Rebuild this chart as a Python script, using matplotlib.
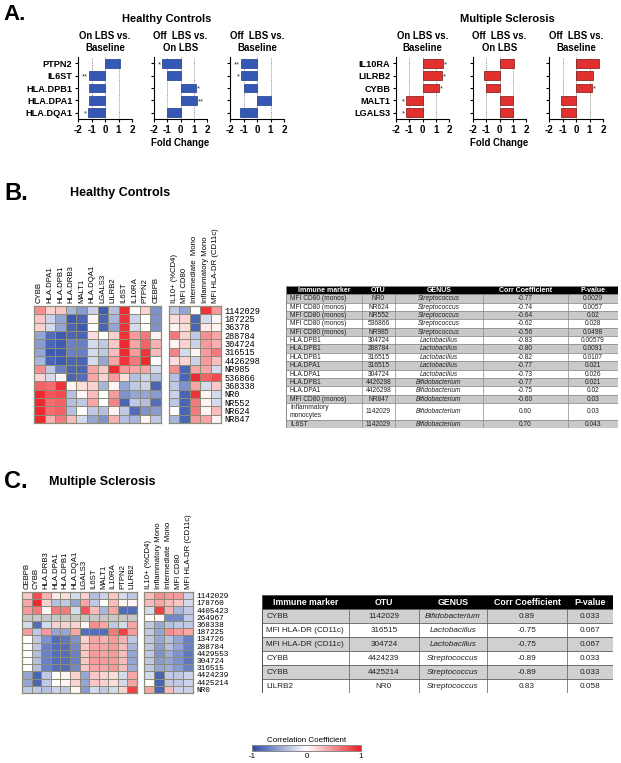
import numpy as np
import matplotlib
matplotlib.use('Agg')
import matplotlib.pyplot as plt
from matplotlib.colors import LinearSegmentedColormap
from matplotlib.patches import Rectangle

SANS = ['Liberation Sans', 'DejaVu Sans']
MONO = ['Liberation Mono', 'DejaVu Sans Mono']
plt.rcParams['font.family'] = SANS
plt.rcParams['axes.unicode_minus'] = False

# ---------------- Panel A: fold change ----------------
comparisons = ['On LBS vs.\nBaseline', 'Off  LBS vs.\nOn LBS', 'Off  LBS vs.\nBaseline']

hc_genes = ['PTPN2', 'IL6ST', 'HLA.DPB1', 'HLA.DPA1', 'HLA.DQA1']
hc_on_vs_base = [1.1, -1.2, -1.2, -1.2, -1.28]
hc_off_vs_on = [-1.37, -1.0, 1.17, 1.27, -1.0]
hc_off_vs_base = [-1.2, -1.2, -1.0, 1.07, -1.25]
hc_on_vs_base_sig = ['', '**', '', '', '*']
hc_off_vs_on_sig = ['*', '', '*', '**', '']
hc_off_vs_base_sig = ['**', '*', '', '', '']

ms_genes = ['IL10RA', 'LILRB2', 'CYBB', 'MALT1', 'LGALS3']
ms_on_vs_base = [1.55, 1.45, 1.22, -1.25, -1.25]
ms_off_vs_on = [1.1, -1.15, -1.0, 1.05, 1.05]
ms_off_vs_base = [1.7, 1.25, 1.2, -1.12, -1.12]
ms_on_vs_base_sig = ['*', '*', '*', '*', '*']
ms_off_vs_on_sig = ['', '', '', '', '']
ms_off_vs_base_sig = ['', '', '*', '', '']

# ---------------- Panel B: healthy controls heatmap ----------------
hc_gene_cols = ['CYBB', 'HLA.DPA1', 'HLA.DPB1', 'HLA.DRB3', 'MALT1', 'HLA.DQA1',
                'LGALS3', 'LILRB2', 'IL6ST', 'IL10RA', 'PTPN2', 'CEBPB']
hc_immune_cols = ['IL10+ (%CD4)', 'MFI CD80', 'Intermediate  Mono',
                  'Inflammatory Mono', 'MFI HLA-DR (CD11c)']
hc_otus = ['1142029', '187225', '36378', '288784', '304724', '316515', '4426298',
           'NR985', '536866', '368338', 'NR0', 'NR552', 'NR624', 'NR847']
hc_gene_corr = [
    [0.5, 0.2, 0.25, -0.4, -0.55, -0.25, -0.9, -0.35, 0.95, 0.0, 0.2, -0.6],
    [0.25, -0.25, -0.5, -0.9, -0.85, 0.05, -0.85, -0.4, 0.9, -0.25, 0.0, -0.6],
    [0.2, -0.2, -0.5, -0.85, -0.9, 0.0, -0.85, -0.5, 0.9, -0.2, 0.0, -0.6],
    [-0.5, -0.8, -0.9, -0.85, -0.85, 0.15, 0.0, 0.2, 0.9, 0.45, 0.6, 0.05],
    [-0.55, -0.85, -0.9, -0.7, -0.7, -0.2, -0.3, 0.25, 0.95, 0.4, 0.7, 0.35],
    [-0.5, -0.9, -0.9, -0.7, -0.7, -0.2, -0.3, 0.3, 0.95, 0.45, 0.9, 0.3],
    [-0.4, -0.85, -0.9, -0.85, -0.85, -0.2, -0.5, 0.4, 0.9, 0.6, 0.95, 0.0],
    [0.5, -0.3, -0.7, -0.85, -0.85, 0.4, 0.25, 0.95, 0.45, 0.4, 0.4, -0.2],
    [0.2, -0.2, 0.05, -0.85, -0.8, 0.4, 0.2, 0.45, 0.15, -0.35, -0.25, -0.35],
    [0.7, 0.65, 0.9, 0.05, 0.15, 0.2, -0.4, 0.05, -0.5, -0.3, -0.25, -0.85],
    [0.95, 0.75, 0.8, -0.35, 0.05, 0.3, 0.0, 0.45, -0.6, -0.5, -0.5, -0.55],
    [0.95, 0.65, 0.7, -0.35, -0.3, 0.4, 0.0, 0.55, -0.85, -0.3, -0.35, -0.8],
    [0.95, 0.65, 0.7, -0.35, 0.0, -0.3, -0.35, 0.05, -0.3, -0.8, -0.6, -0.55],
    [0.95, 0.35, 0.6, 0.3, -0.2, -0.5, -0.6, 0.35, -0.35, -0.4, 0.05, -0.3],
]
hc_immune_corr = [
    [-0.3, -0.5, 0.0, 0.9, 0.45],
    [0.15, 0.2, -0.85, -0.2, 0.05],
    [0.05, 0.15, -0.85, 0.1, 0.05],
    [0.6, 0.2, -0.3, 0.5, 0.4],
    [0.05, 0.2, -0.25, 0.45, 0.35],
    [0.55, -0.2, 0.05, 0.45, 0.6],
    [0.15, 0.2, -0.25, 0.45, 0.3],
    [0.5, -0.85, 0.4, 0.4, -0.2],
    [-0.35, -0.85, 0.95, 0.7, 0.8],
    [-0.3, -0.6, 0.4, -0.2, 0.25],
    [-0.25, -0.85, 0.9, 0.05, -0.2],
    [-0.3, -0.85, 0.6, 0.05, -0.2],
    [0.0, -0.85, 0.6, 0.05, 0.3],
    [-0.4, -0.85, 0.45, 0.4, 0.05],
]

# table B
tab_header = ['Immune marker', 'OTU', 'GENUS', 'Corr Coefficient', 'P-value']
hc_tab_marker = ['MFI CD80 (monos)'] * 5 + ['HLA.DPB1'] * 3 + ['HLA.DPA1'] * 2 + \
    ['HLA.DPB1', 'HLA.DPA1', 'MFI CD80 (monos)', 'Inflammatory\nmonocytes', 'IL6ST']
hc_tab_otu = ['NR0', 'NR624', 'NR552', '536866', 'NR985', '304724', '288784', '316515',
              '316515', '304724', '4426298', '4426298', 'NR847', '1142029', '1142029']
hc_tab_genus = ['Streptococcus'] * 5 + ['Lactobacillus'] * 5 + ['Bifidobacterium'] * 5
hc_tab_corr = ['-0.77', '-0.74', '-0.64', '-0.62', '-0.56', '-0.83', '-0.80', '-0.82',
               '-0.77', '-0.73', '-0.77', '-0.75', '-0.60', '0.60', '0.70']
hc_tab_p = ['0.0029', '0.0057', '0.02', '0.028', '0.0498', '0.00579', '0.0091', '0.0107',
            '0.021', '0.026', '0.021', '0.02', '0.03', '0.03', '0.043']

# ---------------- Panel C: multiple sclerosis heatmap ----------------
ms_gene_cols = ['CEBPB', 'CYBB', 'HLA.DRB3', 'HLA.DPA1', 'HLA.DPB1', 'HLA.DQA1',
                'LGALS3', 'IL6ST', 'MALT1', 'IL10RA', 'PTPN2', 'LILRB2']
ms_immune_cols = ['IL10+ (%CD4)', 'Inflammatory Mono', 'Intermediate  Mono',
                  'MFI CD80', 'MFI HLA-DR (CD11c)']
ms_otus = ['1142029', '178760', '4405423', '264967', '368338', '187225', '134726',
           '288784', '4429553', '304724', '316515', '4424239', '4425214', 'NR0']
nan = np.nan
ms_gene_corr = [
    [0.25, 0.8, 0.35, 0.1, 0.15, -0.2, 0.2, -0.35, -0.25, 0.25, -0.2, -0.3],
    [0.4, 0.95, 0.2, -0.35, -0.3, -0.5, 0.4, -0.3, 0.0, 0.3, 0.05, 0.05],
    [0.45, 0.6, 0.05, 0.6, 0.6, -0.2, 0.75, 0.3, -0.4, 0.4, -0.8, -0.8],
    [nan, nan, nan, nan, nan, nan, nan, nan, nan, nan, nan, nan],
    [-0.2, -0.8, -0.2, 0.2, 0.2, 0.2, 0.05, 0.5, 0.4, -0.3, -0.2, 0.4],
    [0.45, -0.3, 0.45, -0.5, -0.5, 0.4, -0.8, -0.8, -0.8, 0.6, 0.85, 0.45],
    [0.0, -0.3, -0.6, -0.8, -0.75, -0.6, 0.2, 0.4, 0.35, 0.45, 0.35, -0.3],
    [0.0, -0.3, -0.7, -0.8, -0.8, -0.65, 0.25, 0.4, 0.4, 0.45, 0.3, -0.4],
    [0.0, -0.35, -0.7, -0.8, -0.8, -0.7, 0.25, 0.45, 0.4, 0.45, 0.3, -0.5],
    [0.0, -0.35, -0.7, -0.8, -0.8, -0.7, 0.25, 0.45, 0.45, 0.45, 0.3, -0.5],
    [0.0, -0.35, -0.7, -0.8, -0.8, -0.65, 0.25, 0.4, 0.4, 0.45, 0.3, -0.45],
    [-0.5, -0.85, -0.3, 0.0, 0.05, 0.2, -0.5, 0.25, 0.2, 0.15, -0.2, 0.4],
    [-0.5, -0.85, -0.3, 0.0, 0.05, 0.2, -0.5, 0.25, 0.2, 0.15, -0.2, 0.4],
    [-0.3, -0.3, -0.35, -0.25, -0.3, 0.05, -0.55, -0.2, -0.3, -0.2, 0.2, 0.85],
]
ms_immune_corr = [
    [0.3, 0.5, 0.45, 0.45, -0.25],
    [0.3, 0.4, 0.3, 0.25, -0.2],
    [-0.2, 0.85, 0.35, -0.4, -0.3],
    [0.0, 0.05, -0.65, -0.65, -0.3],
    [-0.3, -0.5, -0.35, -0.3, -0.3],
    [-0.3, -0.5, 0.5, 0.45, 0.4],
    [-0.3, -0.5, -0.35, -0.5, -0.7],
    [-0.3, -0.55, -0.35, -0.5, -0.7],
    [-0.3, -0.6, -0.45, -0.6, -0.75],
    [-0.3, -0.55, -0.5, -0.6, -0.75],
    [-0.3, -0.5, -0.45, -0.55, -0.7],
    [-0.2, -0.85, -0.3, -0.3, -0.25],
    [0.0, -0.85, -0.3, -0.3, -0.25],
    [0.4, -0.85, 0.3, -0.25, -0.25],
]

ms_tab_marker = ['CYBB', 'MFI HLA-DR (CD11c)', 'MFI HLA-DR (CD11c)', 'CYBB', 'CYBB', 'LILRB2']
ms_tab_otu = ['1142029', '316515', '304724', '4424239', '4425214', 'NR0']
ms_tab_genus = ['Bifidobacterium', 'Lactobacillus', 'Lactobacillus',
                'Streptococcus', 'Streptococcus', 'Streptococcus']
ms_tab_corr = ['0.89', '-0.75', '-0.75', '-0.89', '-0.89', '0.83']
ms_tab_p = ['0.033', '0.067', '0.067', '0.033', '0.033', '0.058']

# ---------------- helpers ----------------
W, H = 621, 763
fig = plt.figure(figsize=(W / 100, H / 100), dpi=100)

cmap = LinearSegmentedColormap.from_list('corr', ['#2b4aa8', '#ffffff', '#ec1f26'])
cmap.set_bad('#c8c8c8')
GRID = '#8c8c78'


def px_axes(x0, y0, x1, y1):
    # axes placed by pixel box (origin top-left)
    return fig.add_axes([x0 / W, 1 - y1 / H, (x1 - x0) / W, (y1 - y0) / H])


def ftext(x, y, s, **kw):
    fig.text(x / W, 1 - y / H, s, **kw)


def fold_panel(box, genes, vals, sig, title, color, edge, show_labels):
    ax = px_axes(*box)
    y = np.arange(len(genes))
    ax.axvline(0, color='#b8b8b8', lw=0.6, zorder=1)
    for xv in (-1, 1):
        ax.axvline(xv, color='#8a8a8a', lw=0.7, ls=(0, (1, 1.2)), zorder=1)
    ax.barh(y, vals, height=0.72, color=color, edgecolor=edge, linewidth=0.5, zorder=3)
    for yi, v, s in zip(y, vals, sig):
        if s:
            ax.text(v + np.sign(v) * 0.08, yi + 0.1, s, ha='left' if v > 0 else 'right',
                    va='center', fontsize=5.5, color='#333333')
    ax.set_xlim(-2, 2)
    ax.set_ylim(len(genes) - 0.5, -0.5)
    ax.set_xticks([-2, -1, 0, 1, 2])
    ax.set_xticklabels(['-2', '-1', '0', '1', '2'], fontsize=7, fontweight='bold')
    ax.set_yticks(y)
    if show_labels:
        ax.set_yticklabels(genes, fontsize=6.6, fontweight='bold')
    else:
        ax.set_yticklabels([])
    ax.tick_params(length=2.5, width=0.8, pad=1.5)
    for sp in ('top', 'right'):
        ax.spines[sp].set_visible(False)
    for sp in ('left', 'bottom'):
        ax.spines[sp].set_linewidth(0.8)
    ax.set_title(title, fontsize=6.9, fontweight='bold', pad=4, linespacing=1.3)
    return ax


def heat_block(box, data, cols, rows=None, row_fs=6.2):
    ax = px_axes(*box)
    data = np.array(data, dtype=float)
    ax.set_facecolor('#c8c8c8')
    m = ax.pcolormesh(np.ma.masked_invalid(data), cmap=cmap, vmin=-1, vmax=1,
                      edgecolors=GRID, linewidth=0.6)
    ax.set_xlim(0, data.shape[1])
    ax.set_ylim(data.shape[0], 0)
    ax.xaxis.tick_top()
    ax.set_xticks(np.arange(len(cols)) + 0.5)
    ax.set_xticklabels(cols, rotation=90, fontsize=5.6)
    if rows is not None:
        ax.yaxis.tick_right()
        ax.set_yticks(np.arange(len(rows)) + 0.5)
        ax.set_yticklabels(rows, fontsize=row_fs, family=MONO)
    else:
        ax.set_yticks([])
    ax.tick_params(length=0, pad=2.5)
    for sp in ax.spines.values():
        sp.set_color(GRID)
        sp.set_linewidth(0.9)
    return m


def draw_table(box, columns, col_edges, row_units, fs, hfs, line_col, gray):
    ax = px_axes(*box)
    total = 1 + sum(row_units)
    ax.set_xlim(0, 1)
    ax.set_ylim(total, 0)
    ax.axis('off')
    ax.add_patch(Rectangle((0, 0), 1, 1, facecolor='black', edgecolor='black', lw=0.5))
    for j, h in enumerate(tab_header):
        ax.text((col_edges[j] + col_edges[j + 1]) / 2, 0.52, h, color='white',
                fontweight='bold', ha='center', va='center', fontsize=hfs)
    top = 1
    for i, u in enumerate(row_units):
        fc = gray if i % 2 == 0 else 'white'
        ax.add_patch(Rectangle((0, top), 1, u, facecolor=fc, edgecolor=line_col, lw=0.5))
        for j, col in enumerate(columns):
            if j == 0:
                xc, ha = col_edges[0] + 0.012, 'left'
            else:
                xc, ha = (col_edges[j] + col_edges[j + 1]) / 2, 'center'
            ax.text(xc, top + u / 2 + 0.04, col[i], ha=ha, va='center', fontsize=fs,
                    color='#222222', linespacing=1.1,
                    style='italic' if j == 2 else 'normal')
        top += u
    for xe in col_edges[1:-1]:
        ax.plot([xe, xe], [1, total], color=line_col, lw=0.5)
    ax.add_patch(Rectangle((0, 0), 1, total, facecolor='none', edgecolor=line_col, lw=0.7))
    return ax


# ---------------- Panel A ----------------
ftext(3, 15, 'A.', fontsize=16, fontweight='bold', va='center')
ftext(167, 19, 'Healthy Controls', fontsize=8, fontweight='bold', ha='center', va='center')
ftext(507, 19, 'Multiple Sclerosis', fontsize=8, fontweight='bold', ha='center', va='center')

hc_vals = [hc_on_vs_base, hc_off_vs_on, hc_off_vs_base]
hc_sigs = [hc_on_vs_base_sig, hc_off_vs_on_sig, hc_off_vs_base_sig]
ms_vals = [ms_on_vs_base, ms_off_vs_on, ms_off_vs_base]
ms_sigs = [ms_on_vs_base_sig, ms_off_vs_on_sig, ms_off_vs_base_sig]
hc_x = [(78, 132), (154, 207), (230, 284)]
ms_x = [(396, 449), (473, 526), (549, 603)]
for k in range(3):
    fold_panel((hc_x[k][0], 57, hc_x[k][1], 119), hc_genes, hc_vals[k], hc_sigs[k],
               comparisons[k], '#3458b4', '#1d3a8a', k == 0)
    fold_panel((ms_x[k][0], 57, ms_x[k][1], 119), ms_genes, ms_vals[k], ms_sigs[k],
               comparisons[k], '#e2302f', '#7a1414', k == 0)
ftext(180, 143, 'Fold Change', fontsize=6.9, fontweight='bold', ha='center', va='center')
ftext(499, 143, 'Fold Change', fontsize=6.9, fontweight='bold', ha='center', va='center')

# ---------------- Panel B ----------------
ftext(4, 193, 'B.', fontsize=17, fontweight='bold', va='center')
ftext(70, 193, 'Healthy Controls', fontsize=9, fontweight='bold', va='center')
mesh = heat_block((34, 306, 161, 423), hc_gene_corr, hc_gene_cols)
heat_block((169, 306, 221, 423), hc_immune_corr, hc_immune_cols, hc_otus, 6.2)

hc_units = [1] * 13 + [2, 1]
draw_table((286, 286, 618, 428),
           [hc_tab_marker, hc_tab_otu, hc_tab_genus, hc_tab_corr, hc_tab_p],
           [0, 0.229, 0.328, 0.593, 0.849, 1], hc_units, 4.8, 5.0,
           '#8a8a8a', '#c9c9c9')

# ---------------- Panel C ----------------
ftext(4, 482, 'C.', fontsize=17, fontweight='bold', va='center')
ftext(49, 482, 'Multiple Sclerosis', fontsize=9, fontweight='bold', va='center')
heat_block((22, 592, 137, 693), ms_gene_corr, ms_gene_cols)
heat_block((144, 592, 193, 693), ms_immune_corr, ms_immune_cols, ms_otus, 5.6)

draw_table((262, 595, 613, 693),
           [ms_tab_marker, ms_tab_otu, ms_tab_genus, ms_tab_corr, ms_tab_p],
           [0, 0.248, 0.447, 0.641, 0.869, 1], [1] * 6, 5.9, 6.3,
           '#555555', '#d0d0d0')

# ---------------- colour bar ----------------
cax = px_axes(252, 745, 361, 751)
cb = fig.colorbar(mesh, cax=cax, orientation='horizontal', ticks=[-1, 0, 1])
cb.ax.tick_params(length=0, pad=1.5, labelsize=5.8)
cb.outline.set_edgecolor('#888888')
cb.outline.set_linewidth(0.7)
cax.set_title('Correlation Coefficient', fontsize=5.8, pad=2.5)

fig.savefig('out.png', dpi=100)
